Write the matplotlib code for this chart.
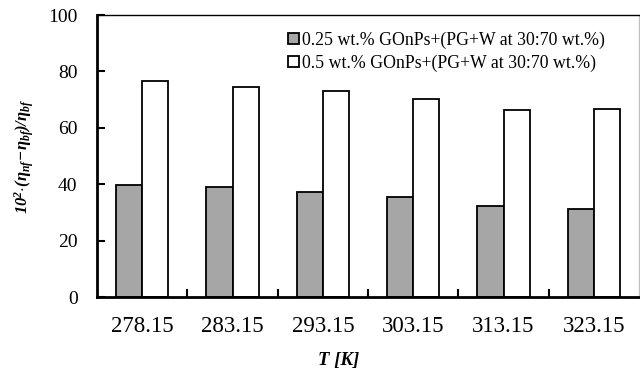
import numpy as np
import matplotlib
matplotlib.use("Agg")
import matplotlib.pyplot as plt

# data
temps = ["278.15", "283.15", "293.15", "303.15", "313.15", "323.15"]
gonps_025 = [39.8, 38.9, 37.2, 35.4, 32.2, 31.3]
gonps_05 = [76.7, 74.4, 73.1, 70.2, 66.4, 66.8]
labels = ["0.25 wt.% GOnPs+(PG+W at 30:70 wt.%)",
          "0.5 wt.% GOnPs+(PG+W at 30:70 wt.%)"]

plt.rcParams["font.family"] = ["Liberation Serif", "DejaVu Serif"]
plt.rcParams["mathtext.fontset"] = "custom"
plt.rcParams["mathtext.rm"] = "Liberation Serif"
plt.rcParams["mathtext.it"] = "Liberation Serif:italic"
plt.rcParams["mathtext.bf"] = "Liberation Serif:bold:italic"

fig = plt.figure(figsize=(6.4, 3.69), dpi=100)
ax = fig.add_axes([0.1516, 0.1951, 0.8469, 0.7642])

x = np.arange(len(temps))
w = 0.29
ax.bar(x - w / 2, gonps_025, w, color="#a6a6a6", edgecolor="black", linewidth=1.3, label=labels[0])
ax.bar(x + w / 2, gonps_05, w, color="white", edgecolor="black", linewidth=1.3, label=labels[1])

ax.set_xlim(-0.5, len(temps) - 0.5)
ax.set_ylim(0, 100)
ax.set_yticks(range(0, 101, 20))

# category ticks sit between the groups, labels at group centres
ax.set_xticks(x[:-1] + 0.5)
ax.set_xticklabels([])
ax.set_xticks(x, minor=True)
ax.set_xticklabels(temps, minor=True, fontsize=16.5)
ax.tick_params(axis="x", which="major", direction="in", length=6, width=1.5)
ax.tick_params(axis="x", which="minor", length=0, pad=14)
ax.tick_params(axis="y", direction="in", length=6, width=1.5, labelsize=14, pad=14)

for s in ["left", "bottom"]:
    ax.spines[s].set_linewidth(2)
ax.spines["top"].set_linewidth(1)
ax.spines["right"].set_linewidth(1)
ax.spines["right"].set_color("#c0c0c0")

ax.set_ylabel(r"$\mathbf{10^2{\cdot}(\eta_{nf}\!-\!\eta_{bf})/\eta_{bf}}$", fontsize=12)
ax.yaxis.set_label_coords(-0.112, 0.5)
ax.set_xlabel("T [K]", fontsize=13.5, fontweight="bold", fontstyle="italic")
ax.xaxis.set_label_coords(0.445, -0.195)

ax.legend(loc="upper left", bbox_to_anchor=(0.33, 0.985), frameon=False, fontsize=12.8,
          handlelength=0.6, handleheight=0.6, handletextpad=0.15, labelspacing=0.3,
          borderpad=0.2)

fig.savefig("out.png", dpi=100)
